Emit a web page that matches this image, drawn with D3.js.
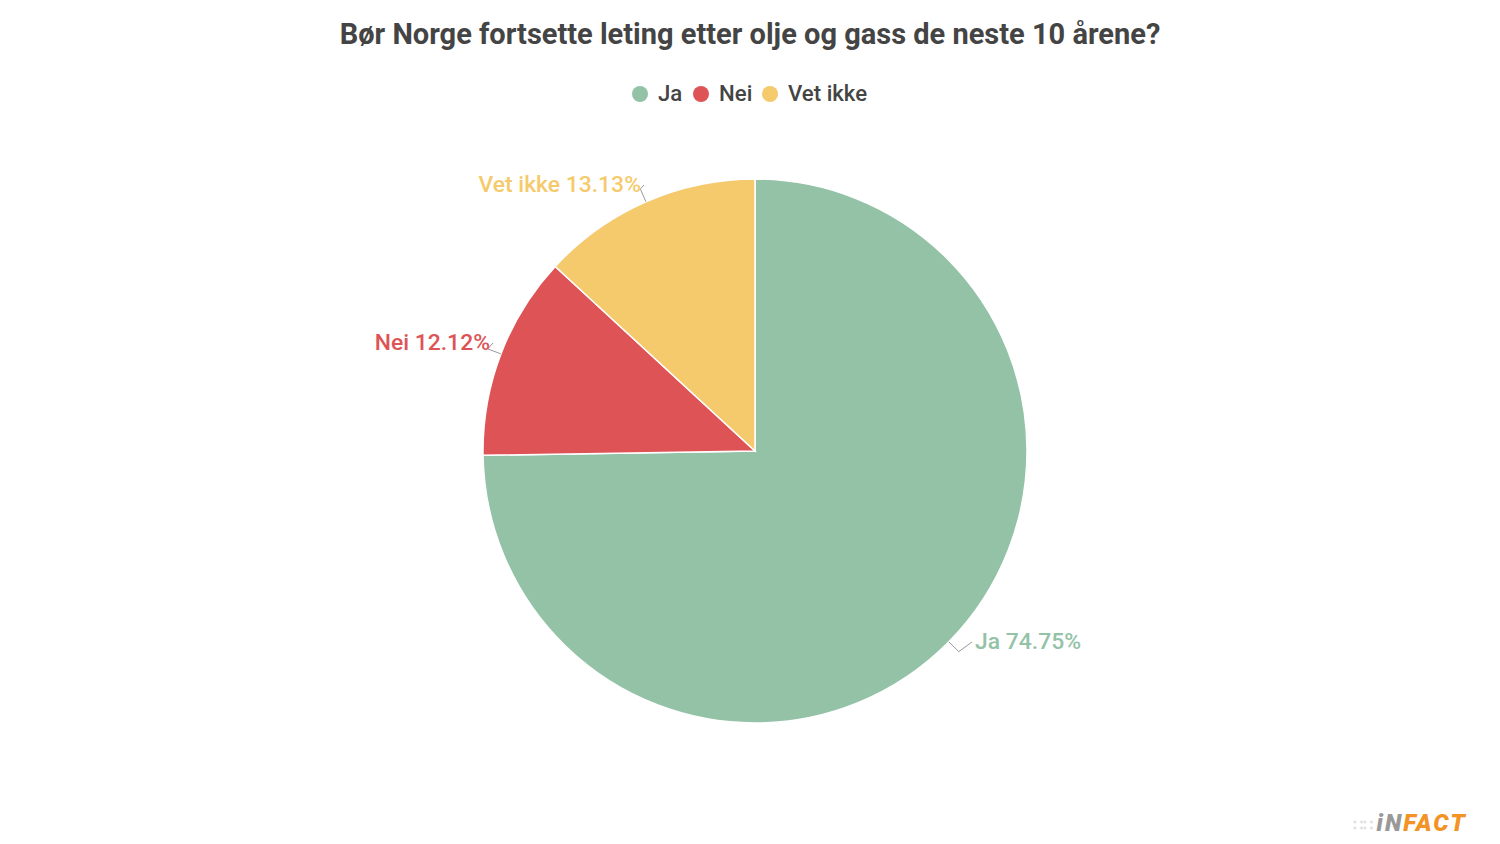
<!DOCTYPE html>
<html><head><meta charset="utf-8">
<script src="https://cdn.jsdelivr.net/npm/d3@7/dist/d3.min.js"></script>
<style>body{margin:0;background:#fff;font-family:Roboto,sans-serif}</style>
</head><body><svg id="c" width="1500" height="844"></svg>
<script>
const categories = ["Ja","Nei","Vet ikke"];
const values = [74.75,12.12,13.13];
const colors = ["#93c2a7","#de5456","#f5ca6d"];
const title = "Bør Norge fortsette leting etter olje og gass de neste 10 årene?";

const svg = d3.select("#c");
svg.append("text").attr("x",750).attr("y",44).attr("text-anchor","middle")
  .attr("font-size",29).attr("font-weight",700).attr("fill","#444").text(title);

// legend
const legX=[640,701,770];
categories.forEach((c,i)=>{
  svg.append("circle").attr("cx",legX[i]).attr("cy",94).attr("r",8).attr("fill",colors[i]);
  svg.append("text").attr("x",legX[i]+18).attr("y",101).attr("font-size",22.2).attr("font-weight",500).attr("fill","#444").text(c);
});

const cx=755, cy=451, R=272;
const pie=d3.pie().sort(null).value(d=>d)(values);
const arc=d3.arc().innerRadius(0).outerRadius(R);
const g=svg.append("g").attr("transform",`translate(${cx},${cy})`);
g.selectAll("path").data(pie).join("path").attr("d",arc)
  .attr("fill",(d,i)=>colors[i]).attr("stroke","#fff").attr("stroke-width",1.5);

// labels with leader lines
const labelPos=[{x:975,y:649,anchor:"start"},{x:490,y:350,anchor:"end"},{x:641,y:192,anchor:"end"}];
pie.forEach((d,i)=>{
  const a=(d.startAngle+d.endAngle)/2;
  const px=Math.sin(a)*R, py=-Math.cos(a)*R;
  const qx=Math.sin(a)*(R+14), qy=-Math.cos(a)*(R+14);
  const lp=labelPos[i];
  const ex=lp.x-cx+(lp.anchor==="start"?-3:3), ey=lp.y-cy-7;
  g.append("path").attr("d",`M${px},${py}L${qx},${qy}L${ex},${ey}`)
    .attr("fill","none").attr("stroke","#999").attr("stroke-width",1);
  svg.append("text").attr("x",lp.x).attr("y",lp.y).attr("text-anchor",lp.anchor)
    .attr("font-size",22.9).attr("font-weight",500).attr("fill",colors[i]).text(`${categories[i]} ${values[i].toFixed(2)}%`);
});

// logo
const logo=svg.append("text").attr("x",1467).attr("y",831).attr("text-anchor","end")
  .attr("font-size",24).attr("font-weight",900).attr("font-style","italic");
logo.append("tspan").attr("fill","#ddd").attr("font-size",16).attr("font-style","normal").text("∷∷ ");
logo.append("tspan").attr("fill","#999").attr("letter-spacing",2).text("iN");
logo.append("tspan").attr("fill","#f39325").attr("letter-spacing",2).text("FACT");
</script></body></html>
